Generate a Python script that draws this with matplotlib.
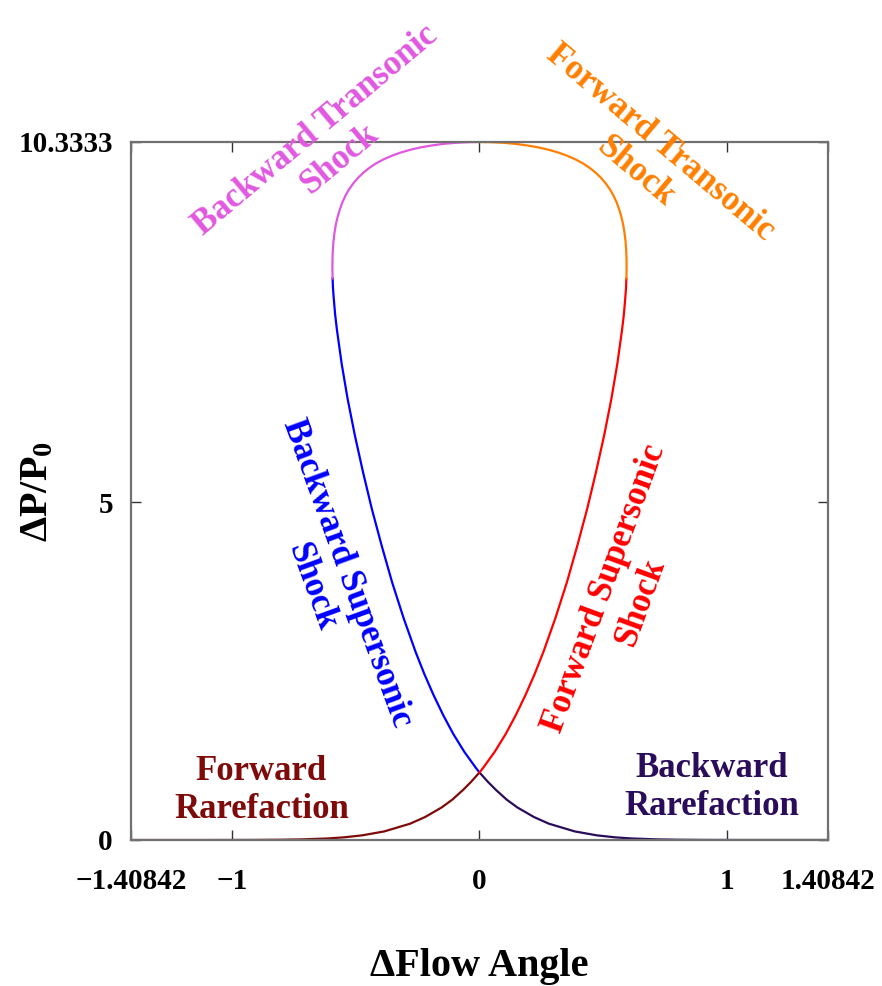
import numpy as np
import matplotlib
matplotlib.use("Agg")
import matplotlib.pyplot as plt

plt.rcParams['font.family'] = ['Liberation Serif', 'DejaVu Serif']
plt.rcParams['font.weight'] = 'bold'
plt.rcParams['mathtext.fontset'] = 'custom'
plt.rcParams['mathtext.rm'] = 'Liberation Serif:bold'
plt.rcParams['mathtext.it'] = 'Liberation Serif:bold'
plt.rcParams['mathtext.bf'] = 'Liberation Serif:bold'

# axis limits / ticks
x_max = 1.40842
y_max = 10.3333
x_ticks = [-1.40842, -1, 0, 1, 1.40842]
x_ticklabels = ['\u22121.40842', '\u22121', '0', '1', '1.40842']
y_ticks = [0, 5, 10.3333]
y_ticklabels = ['0', '5', '10.3333']

# rarefaction branch (|flow angle|, pressure ratio)
rare_angle = [0.0, 0.034, 0.066, 0.110, 0.153, 0.220, 0.280, 0.385, 0.474,
              0.549, 0.613, 0.719, 0.800, 0.919, 1.078, 1.242, 1.40842]
rare_p = [1.0, 0.861, 0.743, 0.597, 0.482, 0.340, 0.242, 0.127, 0.069,
          0.039, 0.023, 0.009, 0.004, 0.001, 0.0, 0.0, 0.0]

# supersonic (weak) shock branch
weak_angle = [0.0, 0.0135, 0.0617, 0.106, 0.147, 0.186, 0.223, 0.258, 0.307,
              0.353, 0.395, 0.435, 0.471, 0.504, 0.533, 0.557, 0.576, 0.5836,
              0.589, 0.5921, 0.5937]
weak_p = [1.0, 1.062, 1.307, 1.570, 1.851, 2.148, 2.458, 2.782, 3.288,
          3.813, 4.353, 4.900, 5.450, 5.995, 6.531, 7.050, 7.548, 7.787,
          8.019, 8.169, 8.316]

# transonic (strong) shock branch
strong_angle = [0.5937, 0.5945, 0.5942, 0.5928, 0.5903, 0.5862, 0.5809, 0.5737,
                0.5648, 0.5546, 0.5421, 0.5276, 0.5105, 0.4911, 0.4695, 0.4451,
                0.4179, 0.3878, 0.3544, 0.3181, 0.2789, 0.2373, 0.1932, 0.1469,
                0.0989, 0.0498, 0.0]
strong_p = [8.316, 8.458, 8.596, 8.730, 8.860, 8.985, 9.105, 9.221,
            9.331, 9.436, 9.536, 9.630, 9.719, 9.802, 9.879, 9.951,
            10.017, 10.076, 10.130, 10.178, 10.219, 10.254, 10.282, 10.305,
            10.321, 10.330, 10.3333]

c_fwd_rare = '#7f0a0a'
c_bwd_rare = '#2a0c5a'
c_bwd_sup = '#0000ff'
c_fwd_sup = '#ff0000'
c_bwd_tran = '#e058e0'
c_fwd_tran = '#ff7f00'

rare_angle = np.array(rare_angle)
weak_angle = np.array(weak_angle)
strong_angle = np.array(strong_angle)

fig = plt.figure(figsize=(8.82, 9.86), dpi=100)
ax = fig.add_axes([131/882, 146/986, 697/882, 698/986])

lw = 1.6
ax.plot(-rare_angle, rare_p, color=c_fwd_rare, lw=lw)
ax.plot(rare_angle, rare_p, color=c_bwd_rare, lw=lw)
ax.plot(-weak_angle, weak_p, color=c_bwd_sup, lw=lw)
ax.plot(weak_angle, weak_p, color=c_fwd_sup, lw=lw)
ax.plot(-strong_angle, strong_p, color=c_bwd_tran, lw=lw)
ax.plot(strong_angle, strong_p, color=c_fwd_tran, lw=lw)

ax.set_xlim(-x_max, x_max)
ax.set_ylim(0, y_max)
ax.set_xticks(x_ticks)
ax.set_xticklabels(x_ticklabels)
ax.set_yticks(y_ticks)
ax.set_yticklabels(y_ticklabels)
ax.tick_params(direction='in', length=7, width=1, color='#333333',
               top=True, right=True, labelsize=21)
ax.tick_params(axis='x', pad=20)
ax.tick_params(axis='y', pad=13)
for s in ax.spines.values():
    s.set_color('#707070')
    s.set_linewidth(1.6)

ax.set_xlabel('\u0394Flow Angle', fontsize=29, fontweight='bold', va='center')
ax.set_ylabel(r'$\Delta$P/P$_0$', fontsize=29, fontweight='bold', va='center')
ax.xaxis.set_label_coords(0.5, -0.181)
ax.yaxis.set_label_coords(-0.133, 0.5)

fs = 25
kw = dict(ha='center', va='center', rotation_mode='anchor', fontsize=fs,
          fontweight='bold', clip_on=False, linespacing=1.2)
ax.text(-0.615, 10.29, 'Backward Transonic\nShock', color=c_bwd_tran, rotation=40, **kw)
ax.text(0.680, 10.11, 'Forward Transonic\nShock', color=c_fwd_tran, rotation=-40, **kw)
ax.text(-0.607, 3.85, 'Backward Supersonic\nShock', color=c_bwd_sup, rotation=-70, **kw)
ax.text(0.579, 3.62, 'Forward Supersonic\nShock', color=c_fwd_sup, rotation=70, **kw)
ax.text(-0.882, 0.74, 'Forward\nRarefaction', color=c_fwd_rare, **kw)
ax.text(0.939, 0.77, 'Backward\nRarefaction', color=c_bwd_rare, **kw)

fig.savefig('out.png', dpi=100)
